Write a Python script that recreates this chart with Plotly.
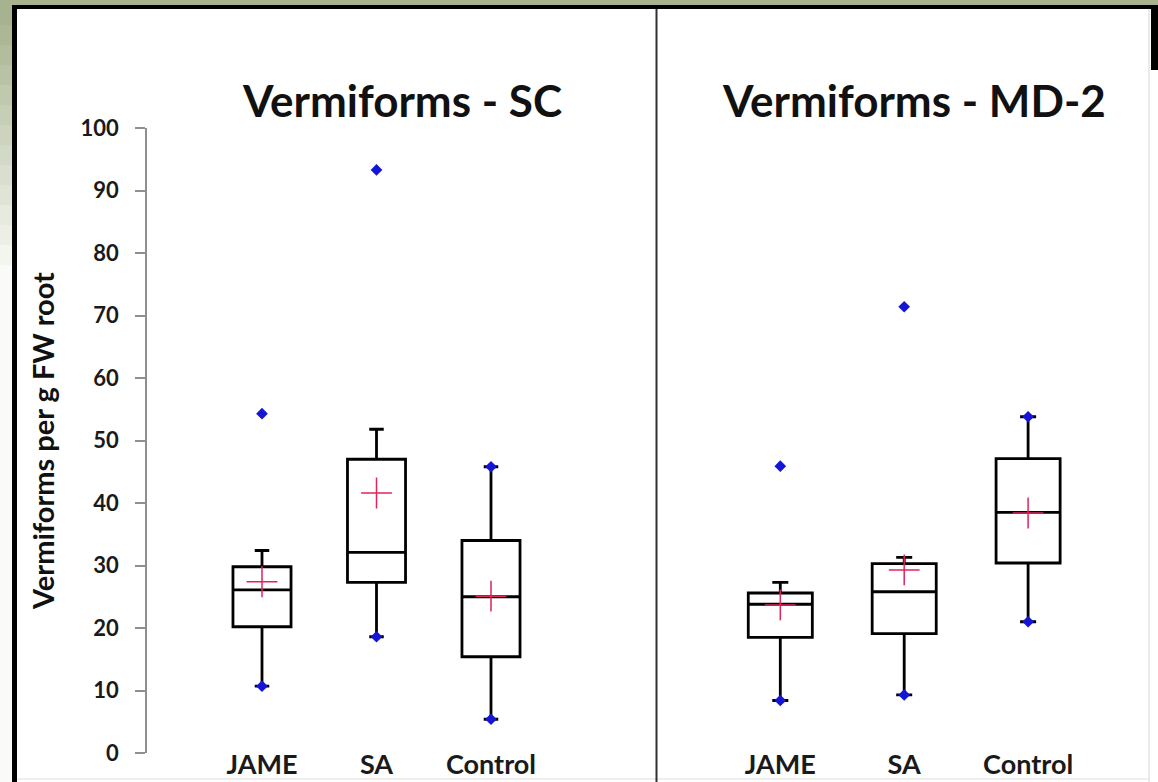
import plotly.graph_objects as go

W, H = 1158, 782

categories = ["JAME", "SA", "Control"]

# Vermiforms - SC
sc_lower = [10.7, 18.6, 5.4]
sc_q1 = [20.2, 27.3, 15.4]
sc_median = [26.1, 32.1, 25.0]
sc_q3 = [29.8, 47.0, 34.0]
sc_upper = [32.4, 51.8, 45.8]
sc_mean = [27.4, 41.6, 25.1]
sc_min = [10.7, 18.6, 5.4]
sc_max = [54.3, 93.3, 45.8]

# Vermiforms - MD-2
md_lower = [8.4, 9.3, 21.0]
md_q1 = [18.5, 19.1, 30.4]
md_median = [23.8, 25.8, 38.5]
md_q3 = [25.6, 30.3, 47.1]
md_upper = [27.3, 31.3, 53.8]
md_mean = [23.7, 29.3, 38.4]
md_min = [8.4, 9.3, 21.0]
md_max = [45.9, 71.4, 53.8]

y_ticks = [0, 10, 20, 30, 40, 50, 60, 70, 80, 90, 100]

FONT = "Lato"
BLUE = "#1515d8"
RED = "#e2245a"


def px_x(p):
    return p / W


def px_y(p):
    return 1 - p / H


pos = list(range(len(categories)))

fig = go.Figure()


def add_panel(xa, ya, lower, q1, med, q3, upper, mean, mins, maxs, width, ww):
    fig.add_trace(go.Box(
        x=pos, q1=q1, median=med, q3=q3, lowerfence=lower, upperfence=upper,
        width=width, whiskerwidth=ww, boxpoints=False,
        line=dict(color="black", width=2.8), fillcolor="rgba(255,255,255,0)",
        xaxis=xa, yaxis=ya, showlegend=False, hoverinfo="skip",
    ))
    fig.add_trace(go.Scatter(
        x=pos + pos, y=mins + maxs, mode="markers",
        marker=dict(symbol="diamond", size=9, color=BLUE,
                    line=dict(width=0)),
        xaxis=xa, yaxis=ya, showlegend=False, hoverinfo="skip",
    ))
    fig.add_trace(go.Scatter(
        x=pos, y=mean, mode="markers",
        marker=dict(symbol="cross-thin", size=22,
                    line=dict(color=RED, width=1.5)),
        xaxis=xa, yaxis=ya, showlegend=False, hoverinfo="skip",
    ))


add_panel("x", "y", sc_lower, sc_q1, sc_median, sc_q3, sc_upper,
          sc_mean, sc_min, sc_max, 0.507, 0.25)
add_panel("x2", "y2", md_lower, md_q1, md_median, md_q3, md_upper,
          md_mean, md_min, md_max, 0.517, 0.25)

# frame and background decoration
shapes = []
# olive band along the top
shapes.append(dict(type="rect", xref="paper", yref="paper",
                   x0=0, x1=1, y0=px_y(5), y1=1,
                   fillcolor="#a7b28e", line=dict(width=0), layer="below"))
# olive band along the left edge fading to white downward
c0 = (167, 178, 142)
steps = 14
for i in range(steps):
    t = i / (steps - 1)
    r = int(c0[0] + (250 - c0[0]) * t)
    g = int(c0[1] + (251 - c0[1]) * t)
    b = int(c0[2] + (248 - c0[2]) * t)
    shapes.append(dict(type="rect", xref="paper", yref="paper",
                       x0=0, x1=px_x(12),
                       y0=px_y(5 + (i + 1) * 20), y1=px_y(5 + i * 20),
                       fillcolor=f"rgb({r},{g},{b})", line=dict(width=0),
                       layer="below"))
shapes.append(dict(type="rect", xref="paper", yref="paper",
                   x0=0, x1=px_x(12), y0=0, y1=px_y(5 + steps * 20),
                   fillcolor="#fafbf8", line=dict(width=0), layer="below"))
# black border top / left / top-right
shapes.append(dict(type="rect", xref="paper", yref="paper",
                   x0=px_x(12), x1=1, y0=px_y(9), y1=px_y(5),
                   fillcolor="black", line=dict(width=0)))
shapes.append(dict(type="rect", xref="paper", yref="paper",
                   x0=px_x(12), x1=px_x(17), y0=0, y1=px_y(5),
                   fillcolor="black", line=dict(width=0)))
shapes.append(dict(type="rect", xref="paper", yref="paper",
                   x0=px_x(1151), x1=1, y0=px_y(70), y1=px_y(5),
                   fillcolor="black", line=dict(width=0)))
# faint inner edges
shapes.append(dict(type="line", xref="paper", yref="paper",
                   x0=px_x(1149), x1=px_x(1149), y0=0, y1=px_y(9),
                   line=dict(color="#d6d6d6", width=1)))
shapes.append(dict(type="line", xref="paper", yref="paper",
                   x0=px_x(17), x1=px_x(1149), y0=px_y(779), y1=px_y(779),
                   line=dict(color="#dedede", width=1)))
# panel divider
shapes.append(dict(type="line", xref="paper", yref="paper",
                   x0=px_x(656.5), x1=px_x(656.5), y0=0, y1=px_y(9),
                   line=dict(color="#303030", width=2)))

annotations = [
    dict(text="Vermiforms - SC", x=px_x(402), y=px_y(100), xref="paper",
         yref="paper", showarrow=False, xanchor="center", yanchor="middle",
         font=dict(family=FONT, size=44, color="#111", weight="bold")),
    dict(text="Vermiforms - MD-2", x=px_x(914), y=px_y(100), xref="paper",
         yref="paper", showarrow=False, xanchor="center", yanchor="middle",
         font=dict(family=FONT, size=44, color="#111", weight="bold")),
    dict(text="Vermiforms per g FW root", x=px_x(42), y=px_y(441),
         xref="paper", yref="paper", showarrow=False, textangle=-90,
         xanchor="center", yanchor="middle",
         font=dict(family=FONT, size=29, color="#111", weight="bold")),
]

y_dom = [px_y(753), px_y(128)]
tickfont = dict(family=FONT, size=22, color="#1a1a1a", weight="bold")
catfont = dict(family=FONT, size=27, color="#1a1a1a", weight="bold")

fig.update_layout(
    template="none",
    width=W, height=H,
    margin=dict(l=0, r=0, t=0, b=0, pad=0, autoexpand=False),
    paper_bgcolor="white",
    plot_bgcolor="rgba(0,0,0,0)",
    shapes=shapes,
    annotations=annotations,
    xaxis=dict(domain=[px_x(147), px_x(640)],
               range=[(147 - 262) / 114.5, (640 - 262) / 114.5],
               tickmode="array", tickvals=pos, ticktext=categories,
               showline=False, showgrid=False, zeroline=False, ticks="",
               tickfont=catfont, ticklabelstandoff=-7, anchor="y",
               automargin=False),
    xaxis2=dict(domain=[px_x(660), px_x(1150)],
                range=[(660 - 780.3) / 123.9, (1150 - 780.3) / 123.9],
                tickmode="array", tickvals=pos, ticktext=categories,
                showline=False, showgrid=False, zeroline=False, ticks="",
                tickfont=catfont, ticklabelstandoff=-7, anchor="y2",
                automargin=False),
    yaxis=dict(domain=y_dom, range=[0, 100], tickmode="array",
               tickvals=y_ticks, showline=True, linecolor="#8f8f8f",
               linewidth=1.5, ticks="outside", ticklen=10,
               tickcolor="#8f8f8f", tickwidth=1.5, showgrid=False,
               zeroline=False, tickfont=tickfont, ticklabelstandoff=12,
               anchor="x", automargin=False),
    yaxis3=dict(domain=y_dom, range=[0, 100], tickmode="array",
                tickvals=y_ticks, ticks="inside", ticklen=10,
                tickcolor="#8f8f8f", tickwidth=1.5, showticklabels=False,
                showgrid=False, zeroline=False, showline=False,
                overlaying="y", anchor="x", side="left", automargin=False),
    yaxis2=dict(domain=y_dom, range=[0, 100], visible=False, anchor="x2",
                automargin=False),
)

fig.write_html("out.html")
